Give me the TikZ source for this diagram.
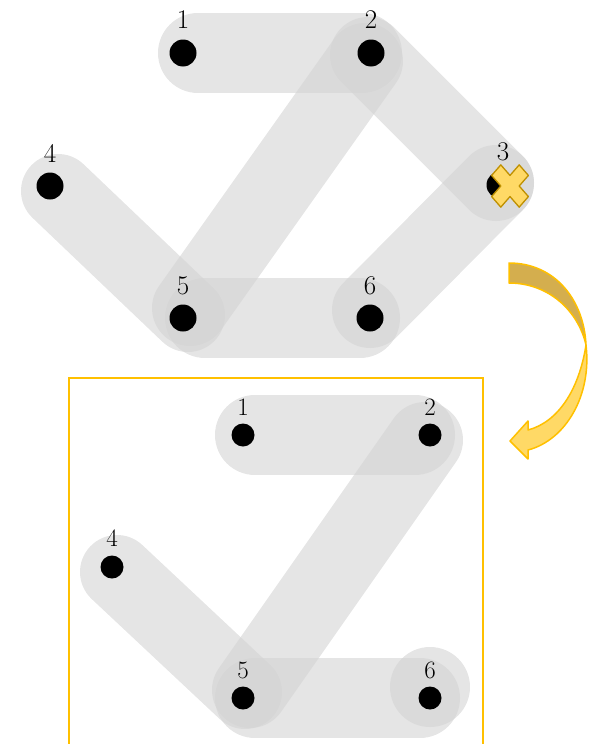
\documentclass[tikz,border=0pt]{standalone}
\definecolor{band}{RGB}{211,211,211}
\definecolor{xfill}{RGB}{255,217,102}
\definecolor{xline}{RGB}{191,144,0}
\definecolor{gold}{RGB}{255,192,0}
\definecolor{goldback}{RGB}{212,174,78}
\tikzset{
  hedge/.style={draw=band, draw opacity=0.6, line cap=round, line join=round},
  hsingle/.style={fill=band, fill opacity=0.6},
  dotT/.style={circle, fill=black, inner sep=0pt, minimum size=27pt},
  dotB/.style={circle, fill=black, inner sep=0pt, minimum size=23pt},
  lblT/.style={font=\fontsize{27}{30}\selectfont, inner sep=0pt},
  lblB/.style={font=\fontsize{25}{28}\selectfont, inner sep=0pt},
  crossmark/.style={fill=xfill, draw=xline, line width=1.3pt, line join=round},
  arrowback/.style={fill=goldback, draw=gold, line width=1.5pt, line join=round},
  arrowfront/.style={fill=xfill, draw=gold, line width=1.5pt, line join=round},
  framebox/.style={draw=gold, line width=1.5pt},
}
\begin{document}
\begin{tikzpicture}[x=1pt,y=-1pt]
\useasboundingbox (0,0) rectangle (596,744);
% ---------- top hypergraph: band end points ----------
\coordinate (ta12) at (198,53);  \coordinate (tb12) at (362,53);
\coordinate (ta25) at (365,61);  \coordinate (tb25) at (190,308);
\coordinate (ta23) at (368,55);  \coordinate (tb23) at (496,183);
\coordinate (ta36) at (496,183); \coordinate (tb36) at (370,310);
\coordinate (ta45) at (58,191);  \coordinate (tb45) at (188,315);
\coordinate (ta56) at (205,318); \coordinate (tb56) at (360,318);
\draw[hedge, line width=80pt] (ta12) -- (tb12);
\draw[hedge, line width=76pt] (ta25) -- (tb25);
\draw[hedge, line width=76pt] (ta23) -- (tb23);
\draw[hedge, line width=76pt] (ta36) -- (tb36);
\draw[hedge, line width=74pt] (ta45) -- (tb45);
\draw[hedge, line width=80pt] (ta56) -- (tb56);
% ---------- bottom hypergraph: band end points ----------
\coordinate (ba12) at (255,435); \coordinate (bb12) at (415,435);
\coordinate (ba25) at (425,440); \coordinate (bb25) at (250,690);
\coordinate (ba45) at (117,572); \coordinate (bb45) at (245,692);
\coordinate (ba56) at (255,698); \coordinate (bb56) at (420,698);
\coordinate (bc6) at (430,687);
\draw[hedge, line width=80pt] (ba12) -- (bb12);
\draw[hedge, line width=76pt] (ba25) -- (bb25);
\draw[hedge, line width=74pt] (ba45) -- (bb45);
\draw[hedge, line width=80pt] (ba56) -- (bb56);
\fill[hsingle] (bc6) circle (40pt);
% ---------- top vertices ----------
\node[dotT] (t1) at (183,53) {};
\node[dotT] (t2) at (371,53) {};
\node[dotT] (t3) at (500,185) {};
\node[dotT] (t4) at (50,186) {};
\node[dotT] (t5) at (183,318) {};
\node[dotT] (t6) at (370,318) {};
\node[lblT] (tl1) at (183,20) {1};
\node[lblT] (tl2) at (371,20) {2};
\node[lblT] (tl3) at (503,152) {3};
\node[lblT] (tl4) at (50,153) {4};
\node[lblT] (tl5) at (183,286) {5};
\node[lblT] (tl6) at (370,286) {6};
% ---------- bottom vertices ----------
\node[dotB] (b1) at (243,435) {};
\node[dotB] (b2) at (430,435) {};
\node[dotB] (b4) at (112,567) {};
\node[dotB] (b5) at (243,698) {};
\node[dotB] (b6) at (430,698) {};
\node[lblB] (bl1) at (243,407) {1};
\node[lblB] (bl2) at (430,407) {2};
\node[lblB] (bl4) at (112,538) {4};
\node[lblB] (bl5) at (243,670) {5};
\node[lblB] (bl6) at (430,670) {6};
% ---------- cross over vertex 3 ----------
\draw[crossmark, shift={(510,186)}, yscale=1.15, rotate=45]
  (-6.5,-6.5) -- (-6.5,-19.5) -- (6.5,-19.5) -- (6.5,-6.5) -- (19.5,-6.5) -- (19.5,6.5)
  -- (6.5,6.5) -- (6.5,19.5) -- (-6.5,19.5) -- (-6.5,6.5) -- (-19.5,6.5) -- (-19.5,-6.5) -- cycle;
% ---------- curved arrow ----------
\draw[arrowback] (509,263) .. controls (555,263) and (584,300) .. (586,345)
  .. controls (578,310) and (548,283) .. (509,283) -- cycle;
\draw[arrowfront] (586,345) .. controls (592,395) and (566,440) .. (528,450)
  -- (528,459) -- (510,441) -- (528,421) -- (528,430)
  .. controls (558,422) and (579,390) .. (586,345) -- cycle;
% ---------- frame ----------
\draw[framebox] (69,744) -- (69,378) -- (483,378) -- (483,744);
\end{tikzpicture}
\end{document}
